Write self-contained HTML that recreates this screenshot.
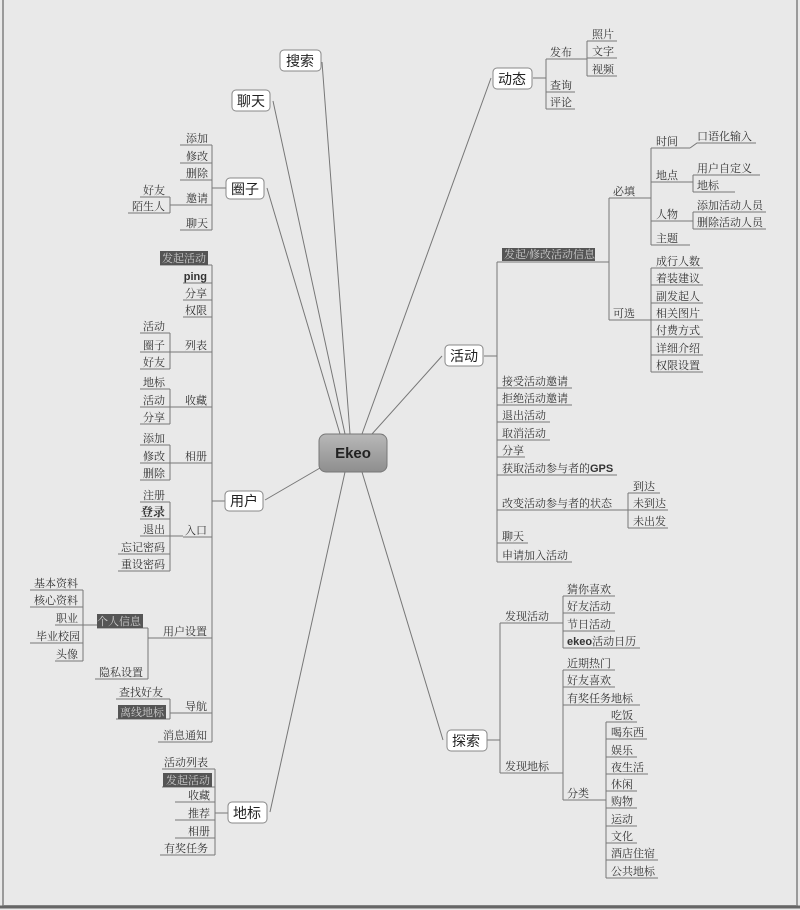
<!DOCTYPE html>
<html><head><meta charset="utf-8"><style>
html,body{margin:0;padding:0;background:#e9e9e9;}
svg{display:block}
text{font-family:"Liberation Serif","Noto Serif CJK SC",serif;font-size:11px;fill:#333}
.e{text-anchor:end}
.b{font-family:"Liberation Sans","Noto Sans CJK SC",sans-serif;font-size:14px;fill:#222}
.s{font-family:"Liberation Sans","Noto Sans CJK SC",sans-serif;font-weight:bold}
.w{fill:#ccc}
</style></head><body>
<svg width="800" height="910" viewBox="0 0 800 910" xmlns="http://www.w3.org/2000/svg">
<defs><linearGradient id="g" x1="0" y1="0" x2="0" y2="1"><stop offset="0" stop-color="#b8b8b8"/><stop offset="1" stop-color="#8e8e8e"/></linearGradient></defs>
<rect x="0" y="0" width="800" height="910" fill="#e9e9e9"/>
<path d="M3 0V906H797V0" fill="none" stroke="#9a9a9a" stroke-width="2"/>
<path d="M0 907H800" stroke="#666" stroke-width="3"/>
<!-- main connectors -->
<g stroke="#777" stroke-width="1" fill="none">
<path d="M322 62L350 434M273 101L345 434M267 188L340 434M265 500L320 468M270 812L345 472M491 78L362 434M442 356L372 434M443 740L362 472"/>
</g>
<!-- branch lines -->
<g stroke="#777" stroke-width="1" fill="none">
<!-- 圈子 -->
<path d="M226 188H212M212 145V230M180 145H212M180 163H212M180 180H212M180 205H212M180 230H212"/>
<path d="M140 197H170M128 213H170M170 197V213M170 205H182"/>
<!-- 用户 spine -->
<path d="M212 265V742M225 501H212"/>
<path d="M160 265H212M183 283H212M183 300H212M183 317H212M183 352H212M183 407H212M183 463H212M183 537H212M160 638H212M180 713H212M158 742H212"/>
<path d="M140 333H170M140 352H183M140 369H170M170 333V369"/>
<path d="M140 389H170M140 407H183M140 424H170M170 389V424"/>
<path d="M140 445H170M140 463H183M140 480H170M170 445V480"/>
<path d="M140 502H170M140 519H170M140 536H183M118 554H170M118 571H170M170 502V571"/>
<path d="M97 628H148M95 679H148M148 628V679M148 638H160"/>
<path d="M30 590H83M30 607H83M55 625H97M30 643H83M55 661H83M83 590V661"/>
<path d="M116 699H170M116 719H170M170 699V719M170 713H183"/>
<!-- 地标 -->
<path d="M162 769H215M162 787H215M175 802H215M175 820H215M175 838H215M160 855H215M215 769V855M228 813H215"/>
<!-- 动态 -->
<path d="M533 78H546M546 59V109M546 59H587M546 92H575M546 109H575M587 41V76M587 41H617M587 58H617M587 76H617"/>
<!-- 活动 -->
<path d="M484 356H497M497 262V562M497 262H609M609 198V320M609 198H651M609 320H651"/>
<path d="M651 148V245M651 148H690M651 182H693M651 221H693M651 245H690M690 148L697 143H756M693 175V192M693 175H760M693 192H735M693 212V229M693 212H766M693 229H766"/>
<path d="M651 268V372M651 268H703M651 285H703M651 303H703M651 320H703M651 337H703M651 355H703M651 372H703"/>
<path d="M497 388H572M497 405H572M497 422H550M497 440H550M497 457H525M497 475H617M497 510H628M497 543H528M497 562H572"/>
<path d="M628 493V528M628 493H660M628 510H668M628 528H668"/>
<!-- 探索 -->
<path d="M487 740H500M500 623V773M500 623H563M500 773H563M563 596V648M563 596H615M563 613H615M563 631H615M563 648H640M563 670V800M563 670H615M563 687H615M563 705H640M563 800H606M606 722V878"/>
<path d="M606 722H637M606 739H647M606 757H637M606 774H648M606 791H637M606 808H637M606 826H637M606 843H637M606 860H658M606 878H658"/>
</g>
<!-- boxes -->
<g fill="#fff" stroke="#888" stroke-width="1">
<rect x="280" y="50" width="41" height="21" rx="4"/>
<rect x="232" y="90" width="38" height="21" rx="4"/>
<rect x="226" y="178" width="38" height="21" rx="4"/>
<rect x="225" y="491" width="38" height="20" rx="4"/>
<rect x="228" y="802" width="39" height="21" rx="4"/>
<rect x="493" y="68" width="39" height="21" rx="4"/>
<rect x="445" y="345" width="38" height="21" rx="4"/>
<rect x="447" y="730" width="40" height="21" rx="4"/>
</g>
<rect x="319" y="434" width="68" height="38" rx="7" fill="url(#g)" stroke="#777"/>
<text x="353" y="458" class="s" style="font-size:15px;text-anchor:middle;fill:#222">Ekeo</text>
<g class="b">
<text x="286" y="66" class="b">搜索</text>
<text x="237" y="106" class="b">聊天</text>
<text x="231" y="194" class="b">圈子</text>
<text x="230" y="506" class="b">用户</text>
<text x="233" y="818" class="b">地标</text>
<text x="498" y="84" class="b">动态</text>
<text x="450" y="361" class="b">活动</text>
<text x="452" y="746" class="b">探索</text>
</g>
<!-- dark highlight boxes -->
<g fill="#555">
<rect x="160" y="251" width="48" height="14"/>
<rect x="97" y="614" width="46" height="14"/>
<rect x="118" y="705" width="48" height="14"/>
<rect x="163" y="773" width="49" height="14"/>
<rect x="502" y="248" width="93" height="13"/>
</g>
<text x="206" y="262" class="e w">发起活动</text>
<text x="141" y="625" class="e w">个人信息</text>
<text x="164" y="716" class="e w">离线地标</text>
<text x="210" y="784" class="e w">发起活动</text>
<text x="504" y="258" class="w">发起/修改活动信息</text>
<!-- left texts -->
<g class="e">
<text x="208" y="142">添加</text><text x="208" y="160">修改</text><text x="208" y="177">删除</text><text x="208" y="202">邀请</text><text x="208" y="227">聊天</text>
<text x="165" y="194">好友</text><text x="165" y="210">陌生人</text>
<text x="207" y="280" class="s">ping</text><text x="207" y="297">分享</text><text x="207" y="314">权限</text><text x="207" y="349">列表</text><text x="207" y="404">收藏</text><text x="207" y="460">相册</text><text x="207" y="534">入口</text><text x="207" y="635">用户设置</text><text x="207" y="710">导航</text><text x="207" y="739">消息通知</text>
<text x="165" y="330">活动</text><text x="165" y="349">圈子</text><text x="165" y="366">好友</text>
<text x="165" y="386">地标</text><text x="165" y="404">活动</text><text x="165" y="421">分享</text>
<text x="165" y="442">添加</text><text x="165" y="460">修改</text><text x="165" y="477">删除</text>
<text x="165" y="499">注册</text><text x="165" y="516" style="font-weight:bold;font-size:12px">登录</text><text x="165" y="533">退出</text><text x="165" y="551">忘记密码</text><text x="165" y="568">重设密码</text>
<text x="143" y="676">隐私设置</text>
<text x="78" y="587">基本资料</text><text x="78" y="604">核心资料</text><text x="78" y="622">职业</text><text x="80" y="640">毕业校园</text><text x="78" y="658">头像</text>
<text x="163" y="696">查找好友</text>
<text x="208" y="766">活动列表</text><text x="210" y="799">收藏</text><text x="210" y="817">推荐</text><text x="210" y="835">相册</text><text x="208" y="852">有奖任务</text>
</g>
<!-- right texts -->
<g>
<text x="550" y="56">发布</text><text x="550" y="89">查询</text><text x="550" y="106">评论</text>
<text x="592" y="38">照片</text><text x="592" y="55">文字</text><text x="592" y="73">视频</text>
<text x="613" y="195">必填</text><text x="613" y="317">可选</text>
<text x="656" y="145">时间</text><text x="656" y="179">地点</text><text x="656" y="218">人物</text><text x="656" y="242">主题</text>
<text x="697" y="140">口语化输入</text><text x="697" y="172">用户自定义</text><text x="697" y="189">地标</text><text x="697" y="209">添加活动人员</text><text x="697" y="226">删除活动人员</text>
<text x="656" y="265">成行人数</text><text x="656" y="282">着装建议</text><text x="656" y="300">副发起人</text><text x="656" y="317">相关图片</text><text x="656" y="334">付费方式</text><text x="656" y="352">详细介绍</text><text x="656" y="369">权限设置</text>
<text x="502" y="385">接受活动邀请</text><text x="502" y="402">拒绝活动邀请</text><text x="502" y="419">退出活动</text><text x="502" y="437">取消活动</text><text x="502" y="454">分享</text><text x="502" y="472">获取活动参与者的<tspan class="s">GPS</tspan></text><text x="502" y="507">改变活动参与者的状态</text><text x="502" y="540">聊天</text><text x="502" y="559">申请加入活动</text>
<text x="633" y="490">到达</text><text x="633" y="507">未到达</text><text x="633" y="525">未出发</text>
<text x="505" y="620">发现活动</text><text x="505" y="770">发现地标</text>
<text x="567" y="593">猜你喜欢</text><text x="567" y="610">好友活动</text><text x="567" y="628">节日活动</text><text x="567" y="645"><tspan class="s">ekeo</tspan>活动日历</text>
<text x="567" y="667">近期热门</text><text x="567" y="684">好友喜欢</text><text x="567" y="702">有奖任务地标</text><text x="567" y="797">分类</text>
<text x="611" y="719">吃饭</text><text x="611" y="736">喝东西</text><text x="611" y="754">娱乐</text><text x="611" y="771">夜生活</text><text x="611" y="788">休闲</text><text x="611" y="805">购物</text><text x="611" y="823">运动</text><text x="611" y="840">文化</text><text x="611" y="857">酒店住宿</text><text x="611" y="875">公共地标</text>
</g>
</svg>
</body></html>
